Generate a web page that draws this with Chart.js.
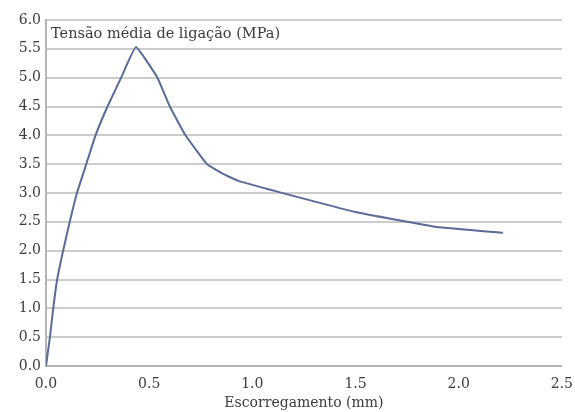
<!DOCTYPE html>
<html>
<head>
<meta charset="utf-8">
<script src="https://cdn.jsdelivr.net/npm/chart.js@4/dist/chart.umd.min.js"></script>
<style>
  html, body { margin: 0; padding: 0; background: #ffffff; }
  #wrap { width: 575px; height: 412px; }
</style>
</head>
<body>
<div id="wrap"><canvas id="c" width="575" height="412"></canvas></div>
<script>
// Bond stress vs. slip curve
const slip = [0, 0.019, 0.035, 0.054, 0.083, 0.115, 0.15, 0.195, 0.24, 0.298, 0.364, 0.436, 0.54, 0.60, 0.676, 0.78, 0.853, 0.933, 1.125, 1.5, 1.894, 2.215];
const stress = [0, 0.5, 1.0, 1.5, 2.0, 2.5, 3.0, 3.5, 4.0, 4.5, 5.0, 5.53, 5.0, 4.5, 4.0, 3.5, 3.34, 3.21, 3.02, 2.67, 2.41, 2.31];
const xTicks = [0, 0.5, 1.0, 1.5, 2.0, 2.5];
const yTicks = [0, 0.5, 1.0, 1.5, 2.0, 2.5, 3.0, 3.5, 4.0, 4.5, 5.0, 5.5, 6.0];
const yTitle = 'Tensão média de ligação (MPa)';
const xTitle = 'Escorregamento (mm)';

const points = slip.map((x, i) => ({ x: x, y: stress[i] }));
const serif = "'DejaVu Serif', 'Liberation Serif', serif";
const textColor = '#3c3c3c';

const insideTitle = {
  id: 'insideTitle',
  afterDraw(chart) {
    const { ctx, chartArea } = chart;
    ctx.save();
    ctx.font = '14.5px ' + serif;
    ctx.fillStyle = textColor;
    ctx.textBaseline = 'middle';
    ctx.textAlign = 'left';
    ctx.fillText(yTitle, chartArea.left + 5, chartArea.top + 14);
    ctx.restore();
  }
};

new Chart(document.getElementById('c'), {
  type: 'scatter',
  data: {
    datasets: [{
      data: points,
      showLine: true,
      borderColor: '#5b6b98',
      borderWidth: 2,
      pointRadius: 0,
      tension: 0.1
    }]
  },
  options: {
    responsive: false,
    animation: false,
    layout: { padding: { left: 0, right: 10, top: 20, bottom: 0 } },
    plugins: { legend: { display: false }, tooltip: { enabled: false } },
    scales: {
      x: {
        type: 'linear',
        min: 0, max: 2.5,
        afterBuildTicks: (s) => { s.ticks = xTicks.map(v => ({ value: v })); },
        afterFit: (s) => { s.height = 46; },
        grid: { display: false },
        border: { display: true, color: '#b4b4b4', width: 2 },
        ticks: {
          color: textColor,
          font: { family: serif, size: 14 },
          padding: 2,
          maxRotation: 0,
          callback: (v) => Number(v).toFixed(1)
        },
        title: {
          display: true,
          text: xTitle,
          color: textColor,
          font: { family: serif, size: 14 },
          padding: { top: 1, bottom: 0 }
        }
      },
      y: {
        type: 'linear',
        min: 0, max: 6,
        afterBuildTicks: (s) => { s.ticks = yTicks.map(v => ({ value: v })); },
        afterFit: (s) => { s.width = 46; },
        grid: { color: '#cccccc', lineWidth: 2, drawTicks: false },
        border: { display: true, color: '#b4b4b4', width: 2 },
        ticks: {
          color: textColor,
          font: { family: serif, size: 14 },
          padding: 5,
          callback: (v) => Number(v).toFixed(1)
        }
      }
    }
  },
  plugins: [insideTitle]
});
</script>
</body>
</html>
